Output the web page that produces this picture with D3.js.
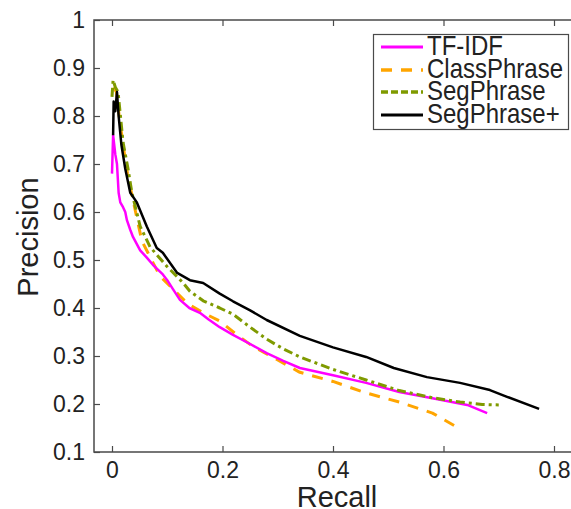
<!DOCTYPE html>
<html>
<head>
<meta charset="utf-8">
<script src="https://cdn.jsdelivr.net/npm/d3@7"></script>
<style>
  body { margin: 0; background: #fff; }
  text { font-family: "Liberation Sans", Arial, Helvetica, sans-serif; }
</style>
</head>
<body>
<script>
// series: [recall, precision]
var tfidf = [[0.0,0.68],[0.002,0.76],[0.006,0.72],[0.009,0.70],[0.012,0.64],[0.015,0.62],[0.02,0.61],[0.024,0.60],
  [0.027,0.583],[0.033,0.563],[0.038,0.548],[0.051,0.52],[0.063,0.505],[0.074,0.49],[0.092,0.47],[0.10,0.458],
  [0.11,0.44],[0.123,0.417],[0.14,0.40],[0.159,0.39],[0.175,0.376],[0.195,0.36],[0.219,0.344],[0.25,0.325],
  [0.28,0.306],[0.31,0.29],[0.34,0.275],[0.40,0.26],[0.46,0.244],[0.52,0.225],[0.58,0.212],[0.643,0.198],[0.679,0.181]];

var classPhrase = [[0.003,0.86],[0.008,0.85],[0.013,0.80],[0.02,0.74],[0.028,0.68],[0.038,0.625],[0.054,0.54],
  [0.065,0.515],[0.087,0.466],[0.11,0.44],[0.136,0.41],[0.165,0.39],[0.195,0.373],[0.225,0.345],[0.255,0.32],
  [0.29,0.298],[0.34,0.266],[0.40,0.247],[0.46,0.223],[0.52,0.204],[0.58,0.181],[0.624,0.152]];

var segPhrase = [[0.0,0.84],[0.002,0.875],[0.006,0.86],[0.011,0.85],[0.02,0.745],[0.029,0.69],[0.036,0.64],
  [0.051,0.57],[0.069,0.527],[0.10,0.486],[0.129,0.452],[0.141,0.435],[0.165,0.415],[0.195,0.40],[0.219,0.387],
  [0.25,0.36],[0.28,0.335],[0.31,0.315],[0.34,0.298],[0.40,0.272],[0.46,0.25],[0.52,0.228],[0.58,0.213],
  [0.63,0.204],[0.67,0.199],[0.70,0.198]];

var segPhrasePlus = [[0.002,0.76],[0.003,0.83],[0.006,0.81],[0.009,0.85],[0.012,0.80],[0.017,0.74],[0.024,0.69],
  [0.033,0.64],[0.045,0.62],[0.063,0.57],[0.081,0.525],[0.092,0.515],[0.118,0.473],[0.141,0.458],[0.165,0.452],
  [0.195,0.43],[0.219,0.414],[0.25,0.395],[0.28,0.375],[0.34,0.342],[0.40,0.318],[0.46,0.298],[0.51,0.275],
  [0.57,0.256],[0.63,0.244],[0.684,0.229],[0.715,0.215],[0.773,0.19]];

var seriesNames = ["TF-IDF", "ClassPhrase", "SegPhrase", "SegPhrase+"];
var xTicks = [0, 0.2, 0.4, 0.6, 0.8];
var yTicks = [0.1, 0.2, 0.3, 0.4, 0.5, 0.6, 0.7, 0.8, 0.9, 1];

var series = [
  {name: seriesNames[0], values: tfidf, color: "#ff00ff", dash: null, w: 2.5},
  {name: seriesNames[1], values: classPhrase, color: "#ffa500", dash: "11,9", w: 3},
  {name: seriesNames[2], values: segPhrase, color: "#7f9a00", dash: "9,4,3,4", w: 3},
  {name: seriesNames[3], values: segPhrasePlus, color: "#000000", dash: null, w: 2.5}
];

var width = 571, height = 509;

var x = d3.scaleLinear().domain([0, 0.8]).range([112, 554]);
var y = d3.scaleLinear().domain([0.1, 1]).range([452, 20]);

var svg = d3.select("body").append("svg")
  .attr("width", width)
  .attr("height", height);

var axisColor = "#4a4a4a";
var fmt = function(d) { return String(+d.toFixed(1)); };

// left axis, ticks pointing in
var yAxis = svg.append("g")
  .attr("transform", "translate(94,0)")
  .call(d3.axisLeft(y).tickValues(yTicks).tickFormat(fmt).tickSizeInner(-6).tickSizeOuter(0).tickPadding(9));
yAxis.select(".domain").remove();
yAxis.selectAll("line").attr("stroke", axisColor).attr("stroke-width", 1.2);
yAxis.selectAll("text").attr("font-size", 23).attr("fill", "#222");

// bottom axis
var xAxis = svg.append("g")
  .attr("transform", "translate(0,452)")
  .call(d3.axisBottom(x).tickValues(xTicks).tickFormat(fmt).tickSizeInner(-6).tickSizeOuter(0).tickPadding(10));
xAxis.select(".domain").remove();
xAxis.selectAll("line").attr("stroke", axisColor).attr("stroke-width", 1.2);
xAxis.selectAll("text").attr("font-size", 23).attr("fill", "#222");

// top mirror ticks
var topAxis = svg.append("g")
  .attr("transform", "translate(0,20)")
  .call(d3.axisTop(x).tickValues(xTicks).tickFormat("").tickSizeInner(-6).tickSizeOuter(0));
topAxis.select(".domain").remove();
topAxis.selectAll("line").attr("stroke", axisColor).attr("stroke-width", 1.2);

// box lines (right side runs off the picture)
var xEnd = x(0.86);
svg.append("path")
  .attr("d", "M" + xEnd + "," + y(1) + "H94V" + y(0.1) + "H" + xEnd)
  .attr("fill", "none")
  .attr("stroke", axisColor)
  .attr("stroke-width", 1.5);

// curves
var line = d3.line()
  .x(function(d) { return x(d[0]); })
  .y(function(d) { return y(d[1]); });

// draw order: classphrase under the others
var drawOrder = [1, 0, 2, 3];
drawOrder.forEach(function(i) {
  var s = series[i];
  svg.append("path")
    .datum(s.values)
    .attr("d", line)
    .attr("fill", "none")
    .attr("stroke", s.color)
    .attr("stroke-width", s.w)
    .attr("stroke-linejoin", "round")
    .attr("stroke-dasharray", s.dash);
});

// axis titles
svg.append("text")
  .attr("x", 337).attr("y", 507)
  .attr("text-anchor", "middle")
  .attr("font-size", 29)
  .attr("fill", "#222")
  .text("Recall");

svg.append("text")
  .attr("transform", "translate(38,237) rotate(-90)")
  .attr("text-anchor", "middle")
  .attr("font-size", 29)
  .attr("fill", "#222")
  .text("Precision");

// legend
var legend = svg.append("g");
legend.append("rect")
  .attr("x", 373.5).attr("y", 34.5)
  .attr("width", 195).attr("height", 95)
  .attr("fill", "#fff")
  .attr("stroke", axisColor)
  .attr("stroke-width", 1.2);

var baselines = [55, 78, 100, 123];
series.forEach(function(s, i) {
  var by = baselines[i];
  legend.append("line")
    .attr("x1", 381).attr("x2", 423)
    .attr("y1", by - 8).attr("y2", by - 8)
    .attr("stroke", s.color)
    .attr("stroke-width", s.w + 0.5)
    .attr("stroke-dasharray", s.name === "ClassPhrase" ? "11,9" : (s.name === "SegPhrase" ? "7,3" : null));
  legend.append("text")
    .attr("transform", "translate(427," + by + ") scale(1,1.12)")
    .attr("font-size", 24)
    .attr("fill", "#222")
    .text(s.name);
});
</script>
</body>
</html>
